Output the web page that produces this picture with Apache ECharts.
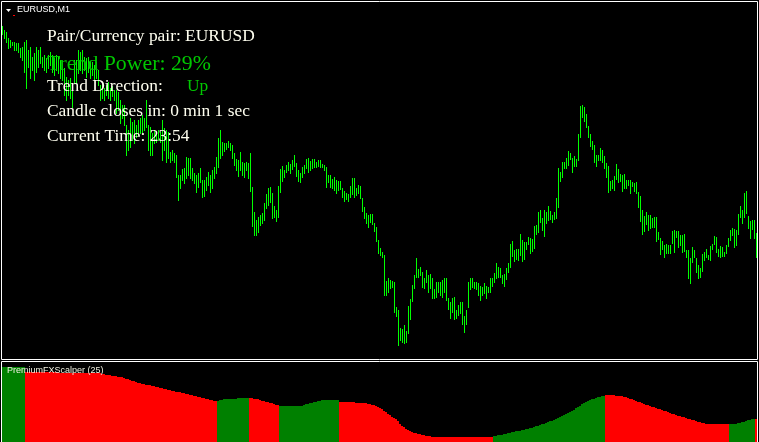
<!DOCTYPE html>
<html><head><meta charset="utf-8">
<script src="https://cdn.jsdelivr.net/npm/echarts@6/dist/echarts.min.js"></script>
<style>html,body{margin:0;padding:0;background:#000;}#c{width:759px;height:442px;}</style>
</head><body><div id="c"></div>
<script>
// EURUSD M1 bars: high / low prices
const high = [
1.08974,1.08970,1.08968,1.08962,1.08960,1.08958,1.08958,1.08957,1.08957,1.08952,
1.08953,1.08958,1.08960,1.08950,1.08953,1.08943,1.08947,1.08953,1.08950,1.08953,
1.08943,1.08945,1.08942,1.08945,1.08948,1.08945,1.08942,1.08945,1.08943,1.08940,
1.08938,1.08932,1.08923,1.08920,1.08922,1.08917,1.08940,1.08940,1.08950,1.08948,
1.08950,1.08943,1.08942,1.08943,1.08938,1.08938,1.08935,1.08938,1.08930,1.08915,
1.08917,1.08912,1.08915,1.08918,1.08912,1.08914,1.08910,1.08910,1.08908,1.08900,
1.08895,1.08895,1.08875,1.08870,1.08882,1.08878,1.08880,1.08875,1.08880,1.08882,
1.08885,1.08882,1.08900,1.08875,1.08873,1.08867,1.08870,1.08869,1.08870,1.08868,
1.08880,1.08872,1.08870,1.08868,1.08848,1.08850,1.08847,1.08845,1.08825,1.08825,
1.08831,1.08832,1.08843,1.08842,1.08842,1.08832,1.08827,1.08825,1.08827,1.08832,
1.08820,1.08820,1.08823,1.08828,1.08825,1.08830,1.08833,1.08843,1.08862,1.08870,
1.08858,1.08857,1.08857,1.08859,1.08857,1.08855,1.08847,1.08841,1.08840,1.08848,
1.08838,1.08837,1.08838,1.08837,1.08847,1.08813,1.08788,1.08780,1.08783,1.08785,
1.08787,1.08797,1.08806,1.08812,1.08813,1.08807,1.08794,1.08790,1.08814,1.08831,
1.08834,1.08830,1.08835,1.08838,1.08836,1.08840,1.08845,1.08837,1.08830,1.08827,
1.08833,1.08835,1.08841,1.08842,1.08839,1.08841,1.08841,1.08838,1.08840,1.08840,
1.08836,1.08835,1.08833,1.08825,1.08825,1.08821,1.08823,1.08820,1.08819,1.08819,
1.08812,1.08809,1.08807,1.08806,1.08814,1.08822,1.08822,1.08812,1.08815,1.08814,
1.08802,1.08793,1.08787,1.08785,1.08786,1.08786,1.08777,1.08773,1.08760,1.08752,
1.08748,1.08745,1.08719,1.08722,1.08720,1.08719,1.08718,1.08693,1.08690,1.08672,
1.08671,1.08675,1.08669,1.08694,1.08701,1.08715,1.08725,1.08742,1.08731,1.08733,
1.08728,1.08722,1.08730,1.08725,1.08726,1.08722,1.08711,1.08718,1.08718,1.08718,
1.08720,1.08722,1.08722,1.08702,1.08698,1.08702,1.08703,1.08690,1.08695,1.08698,
1.08698,1.08684,1.08690,1.08718,1.08722,1.08722,1.08718,1.08718,1.08717,1.08714,
1.08713,1.08717,1.08714,1.08713,1.08722,1.08722,1.08727,1.08737,1.08733,1.08732,
1.08725,1.08726,1.08732,1.08737,1.08756,1.08759,1.08750,1.08751,1.08751,1.08766,
1.08760,1.08758,1.08758,1.08763,1.08762,1.08761,1.08774,1.08775,1.08788,1.08790,
1.08782,1.08790,1.08788,1.08794,1.08789,1.08785,1.08788,1.08802,1.08832,1.08828,
1.08838,1.08838,1.08842,1.08849,1.08847,1.08842,1.08844,1.08841,1.08866,1.08894,
1.08895,1.08893,1.08886,1.08874,1.08866,1.08859,1.08855,1.08845,1.08845,1.08852,
1.08850,1.08844,1.08837,1.08834,1.08819,1.08820,1.08824,1.08836,1.08831,1.08826,
1.08825,1.08826,1.08820,1.08820,1.08820,1.08818,1.08817,1.08818,1.08808,1.08804,
1.08790,1.08784,1.08788,1.08785,1.08785,1.08782,1.08783,1.08783,1.08768,1.08762,
1.08759,1.08755,1.08756,1.08755,1.08755,1.08769,1.08770,1.08769,1.08769,1.08765,
1.08765,1.08766,1.08750,1.08750,1.08742,1.08753,1.08750,1.08742,1.08735,1.08732,
1.08746,1.08748,1.08751,1.08745,1.08754,1.08756,1.08764,1.08763,1.08751,1.08754,
1.08753,1.08748,1.08755,1.08762,1.08770,1.08772,1.08771,1.08770,1.08786,1.08794,
1.08790,1.08807,1.08809,1.08784,1.08779,1.08780,1.08780,1.08767
];
const low = [
1.08966,1.08962,1.08958,1.08952,1.08953,1.08955,1.08950,1.08950,1.08948,1.08943,
1.08940,1.08928,1.08912,1.08933,1.08922,1.08930,1.08920,1.08928,1.08933,1.08937,
1.08933,1.08930,1.08928,1.08932,1.08935,1.08928,1.08925,1.08930,1.08927,1.08922,
1.08920,1.08905,1.08900,1.08905,1.08902,1.08893,1.08917,1.08917,1.08927,1.08930,
1.08927,1.08930,1.08923,1.08928,1.08922,1.08925,1.08920,1.08922,1.08915,1.08900,
1.08902,1.08900,1.08905,1.08902,1.08900,1.08904,1.08900,1.08887,1.08890,1.08877,
1.08882,1.08875,1.08845,1.08850,1.08853,1.08860,1.08857,1.08863,1.08865,1.08867,
1.08868,1.08870,1.08873,1.08850,1.08845,1.08845,1.08857,1.08858,1.08860,1.08858,
1.08840,1.08850,1.08838,1.08842,1.08838,1.08840,1.08838,1.08823,1.08800,1.08812,
1.08820,1.08817,1.08822,1.08825,1.08822,1.08820,1.08817,1.08808,1.08813,1.08818,
1.08803,1.08804,1.08810,1.08815,1.08808,1.08812,1.08822,1.08827,1.08833,1.08842,
1.08845,1.08849,1.08851,1.08853,1.08850,1.08842,1.08835,1.08830,1.08824,1.08830,
1.08825,1.08823,1.08830,1.08822,1.08809,1.08774,1.08765,1.08765,1.08768,1.08775,
1.08777,1.08780,1.08792,1.08795,1.08798,1.08782,1.08783,1.08779,1.08783,1.08808,
1.08819,1.08823,1.08828,1.08830,1.08827,1.08831,1.08834,1.08824,1.08819,1.08818,
1.08823,1.08827,1.08832,1.08828,1.08830,1.08832,1.08833,1.08833,1.08834,1.08833,
1.08833,1.08830,1.08813,1.08818,1.08813,1.08812,1.08810,1.08807,1.08810,1.08811,
1.08803,1.08799,1.08801,1.08799,1.08803,1.08806,1.08803,1.08805,1.08807,1.08802,
1.08789,1.08782,1.08777,1.08773,1.08778,1.08776,1.08769,1.08759,1.08747,1.08745,
1.08743,1.08705,1.08705,1.08708,1.08712,1.08713,1.08688,1.08684,1.08655,1.08660,
1.08658,1.08657,1.08658,1.08667,1.08681,1.08699,1.08712,1.08723,1.08723,1.08725,
1.08713,1.08712,1.08718,1.08708,1.08712,1.08702,1.08702,1.08703,1.08708,1.08705,
1.08703,1.08708,1.08700,1.08691,1.08682,1.08688,1.08681,1.08682,1.08685,1.08687,
1.08676,1.08668,1.08676,1.08693,1.08711,1.08713,1.08712,1.08711,1.08705,1.08700,
1.08705,1.08707,1.08702,1.08708,1.08708,1.08714,1.08718,1.08722,1.08723,1.08723,
1.08717,1.08714,1.08721,1.08728,1.08733,1.08744,1.08739,1.08741,1.08740,1.08745,
1.08739,1.08741,1.08751,1.08756,1.08747,1.08749,1.08752,1.08766,1.08768,1.08778,
1.08770,1.08764,1.08777,1.08780,1.08781,1.08778,1.08781,1.08782,1.08793,1.08819,
1.08823,1.08832,1.08832,1.08835,1.08841,1.08828,1.08834,1.08834,1.08840,1.08863,
1.08883,1.08879,1.08873,1.08863,1.08854,1.08851,1.08838,1.08834,1.08840,1.08840,
1.08838,1.08832,1.08823,1.08808,1.08810,1.08812,1.08810,1.08821,1.08818,1.08819,
1.08809,1.08812,1.08812,1.08815,1.08807,1.08814,1.08809,1.08807,1.08793,1.08779,
1.08766,1.08769,1.08776,1.08770,1.08772,1.08773,1.08773,1.08759,1.08761,1.08746,
1.08751,1.08743,1.08747,1.08747,1.08747,1.08757,1.08748,1.08763,1.08753,1.08755,
1.08748,1.08749,1.08743,1.08722,1.08717,1.08738,1.08743,1.08728,1.08722,1.08723,
1.08729,1.08740,1.08743,1.08741,1.08740,1.08751,1.08756,1.08748,1.08744,1.08743,
1.08744,1.08744,1.08747,1.08754,1.08760,1.08765,1.08753,1.08755,1.08766,1.08783,
1.08777,1.08783,1.08787,1.08772,1.08762,1.08771,1.08762,1.08743
];
// PremiumFXScalper (25) histogram values
const scalper = [
75,75,75,75,75,75,75,75,75,75,75,75,
70,70,70,70,70,70,70,70,70,70,70,70,70,70,70,70,70,
69,69,69,69,69,69,69,69,69,69,69,69,69,69,69,69,69,69,69,69,
69,68,68,67,67,67,66,66,66,65,65,65,64,63,63,62,61,61,60,59,59,58,58,57,57,57,56,56,55,55,
54,54,53,53,52,52,51,51,50,50,50,49,49,48,48,47,47,46,46,45,45,44,44,43,43,42,42,41,41,
41,42,42,43,43,43,43,43,43,43,44,44,44,44,44,44,
44,44,43,43,43,42,41,41,40,40,39,39,38,37,37,
36,36,36,36,36,36,36,36,36,36,36,36,37,38,38,39,39,40,40,41,41,42,42,42,42,42,42,42,42,42,
40,40,40,40,40,40,40,40,39,39,39,39,39,39,
38,38,37,37,36,35,34,33,31,30,28,27,25,24,23,21,18,16,15,13,12,11,10,9,9,8,8,7,7,6,6,6,
5,5,5,5,5,5,5,5,5,5,5,5,5,5,5,5,5,5,5,5,5,5,5,5,5,5,5,5,5,5,5,
6,6,7,7,7,8,8,9,9,10,10,11,11,11,12,12,13,13,14,14,15,16,16,17,18,18,19,20,21,21,
22,23,24,25,26,27,28,29,30,31,32,34,35,36,38,39,40,41,42,43,43,44,45,45,46,46,
47,47,47,47,47,46,46,46,46,45,45,44,43,43,42,41,40,40,39,38,37,37,36,35,35,34,33,33,32,31,31,
30,29,28,28,27,26,26,25,25,24,23,23,22,22,21,20,20,19,19,18,18,18,18,18,18,18,18,18,18,18,18,
18,18,18,18,19,19,20,20,21,22,22,23,23,
23
];
// trend segments of the histogram: [first bar index, direction]
const scalperTrend = [[0,'up'],[12,'down'],[108,'up'],[124,'down'],[139,'up'],[169,'down'],[246,'up'],[302,'down'],[364,'up'],[377,'down']];

const infoLines = [
  {text:'Pair/Currency pair: EURUSD', x:47, y:36.5, size:17.4, color:'#fffff0'},
  {text:'Trend Power: 29%', x:47, y:64.5, size:21.8, color:'#00c800'},
  {text:'Trend Direction:', x:47, y:86.7, size:17.4, color:'#fffff0'},
  {text:'Up', x:187, y:86.7, size:17.4, color:'#00c800'},
  {text:'Candle closes in: 0 min 1 sec', x:47, y:111, size:17.4, color:'#fffff0'},
  {text:'Current Time: 23:54', x:47, y:136.3, size:17.4, color:'#fffff0'}
];

const cats = high.map((_, i) => i);
const colors = [];
let seg = 0;
for (let i = 0; i < scalper.length; i++) {
  while (seg + 1 < scalperTrend.length && scalperTrend[seg + 1][0] <= i) seg++;
  colors.push(scalperTrend[seg][1] === 'up' ? '#008000' : '#ff0000');
}

const chart = echarts.init(document.getElementById('c'), null, {renderer: 'canvas'});
const graphic = [];
infoLines.forEach(l => graphic.push({
  type: 'text', x: l.x, y: l.y, z: 100, zlevel: 1,
  style: {text: l.text, fill: l.color, font: l.size + 'px "Liberation Serif"', verticalAlign: 'middle', align: 'left'}
}));
graphic.push(
  {type:'rect', z:100, zlevel:1, shape:{x:1.5, y:1.5, width:756, height:358}, style:{fill:'none', stroke:'#ffffff', lineWidth:1}},
  {type:'rect', z:100, zlevel:1, shape:{x:1.5, y:361.5, width:756, height:100}, style:{fill:'none', stroke:'#ffffff', lineWidth:1}},
  {type:'polygon', z:100, zlevel:1, shape:{points:[[6,9],[11,9],[8.5,12]]}, style:{fill:'#ffffff'}},
  {type:'rect', z:100, zlevel:1, shape:{x:13, y:15, width:2, height:1}, style:{fill:'#ff0000'}},
  {type:'text', x:17, y:9.7, z:100, zlevel:1, style:{text:'EURUSD,M1', fill:'#ffffff', font:'9px "Liberation Sans"', verticalAlign:'middle'}},
  {type:'text', x:7, y:370.7, z:100, zlevel:1, style:{text:'PremiumFXScalper (25)', fill:'#f0f0e0', font:'9px "Liberation Sans"', verticalAlign:'middle'}}
);

chart.setOption({
  backgroundColor: '#000000',
  animation: false,
  grid: [
    {left: 1, top: 2, width: 756, height: 356},
    {left: 1, top: 362, width: 756, height: 80}
  ],
  xAxis: [
    {type: 'category', gridIndex: 0, data: cats, show: false, boundaryGap: true},
    {type: 'category', gridIndex: 1, data: cats, show: false, boundaryGap: true}
  ],
  yAxis: [
    {type: 'value', gridIndex: 0, min: 1.08642, max: 1.08998, show: false, splitLine: {show: false}},
    {type: 'value', gridIndex: 1, min: 0, max: 80, show: false, splitLine: {show: false}}
  ],
  series: [
    {
      type: 'custom', xAxisIndex: 0, yAxisIndex: 0, clip: false,
      data: high.map((h, i) => [i, h, low[i]]),
      encode: {x: 0, y: [1, 2]},
      renderItem: function (params, api) {
        const t = api.coord([api.value(0), api.value(1)]);
        const b = api.coord([api.value(0), api.value(2)]);
        const y0 = Math.round(t[1]);
        const y1 = Math.round(b[1]);
        return {type: 'rect', shape: {x: Math.floor(t[0] + 0.01), y: y0, width: 1, height: Math.max(1, y1 - y0 + 1)}, style: {fill: '#00ff00'}};
      }
    },
    {
      type: 'bar', xAxisIndex: 1, yAxisIndex: 1, barWidth: 2, barGap: '0%', silent: true,
      data: scalper.map((v, i) => ({value: v, itemStyle: {color: colors[i]}}))
    }
  ],
  graphic: graphic
});
</script>
</body></html>
